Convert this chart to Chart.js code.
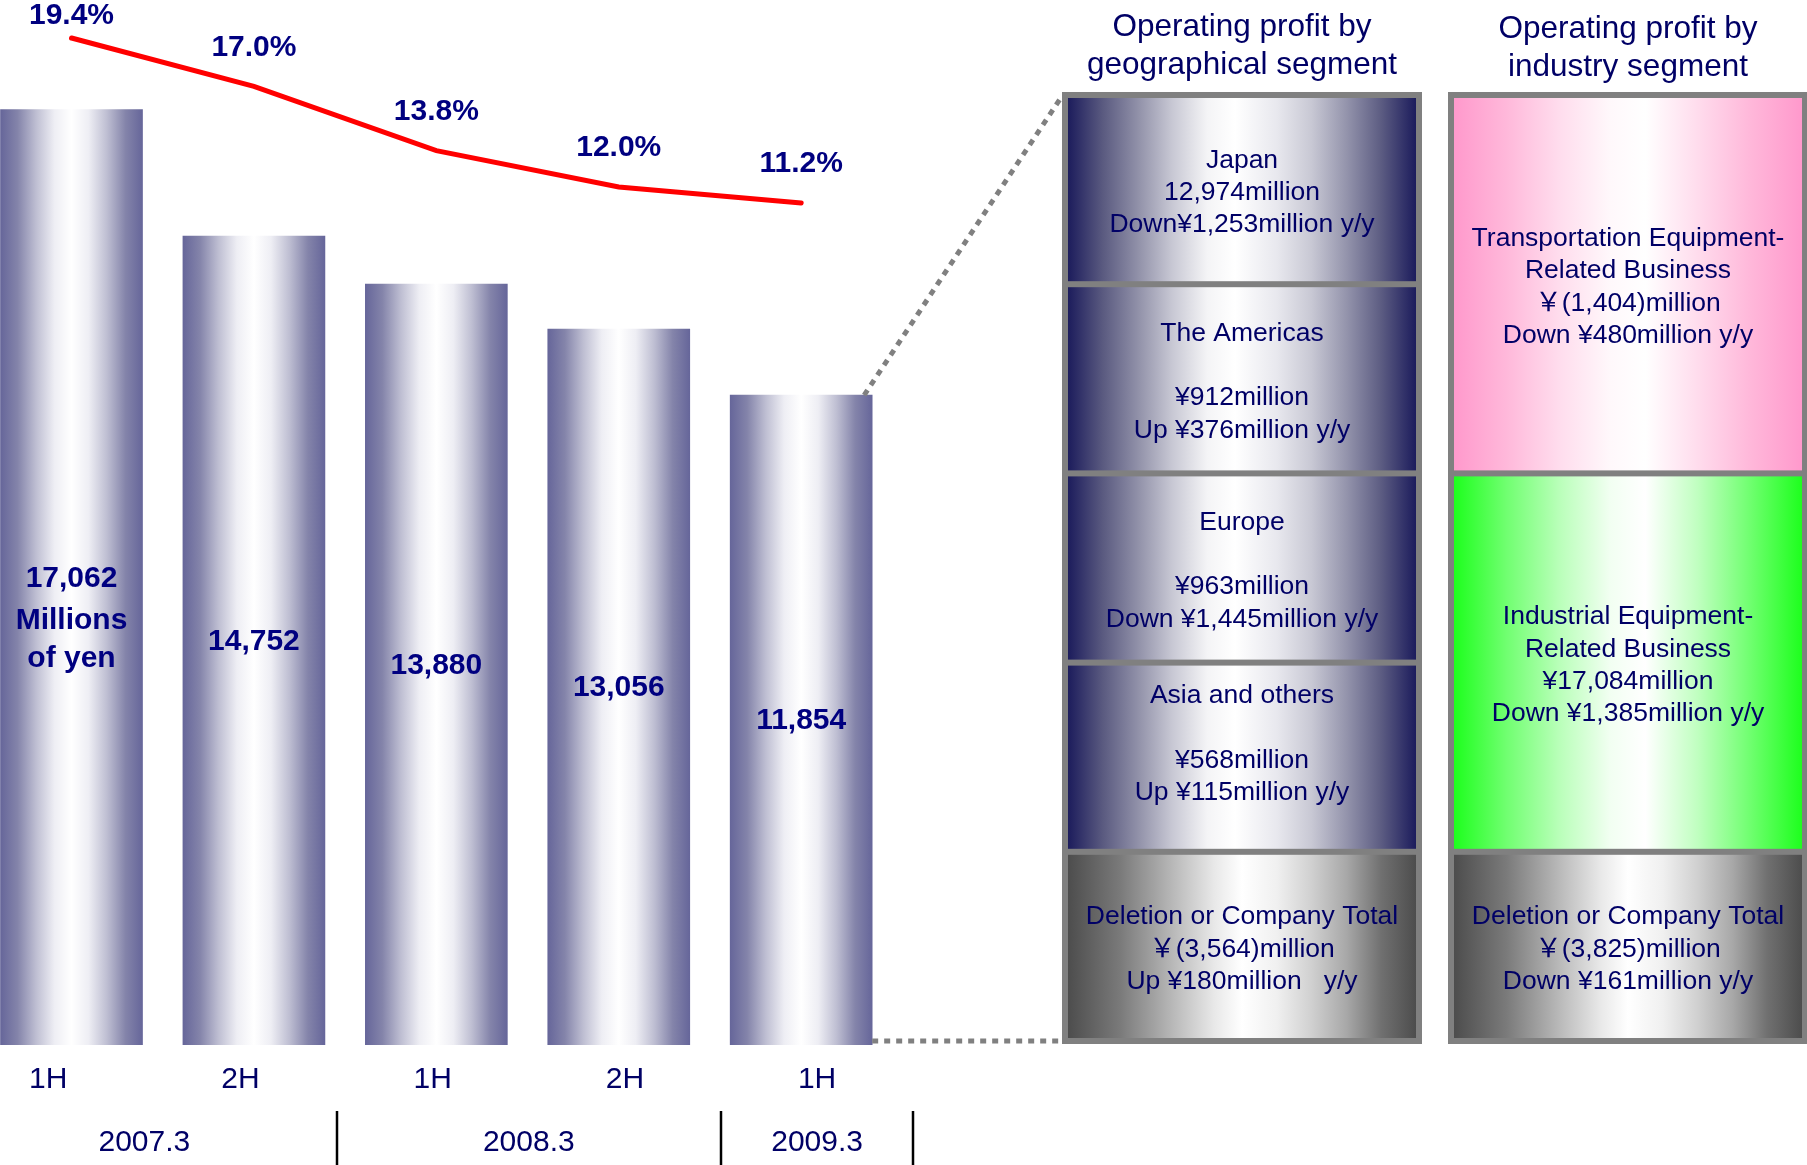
<!DOCTYPE html>
<html lang="en">
<head>
<meta charset="UTF-8">
<title>Operating profit</title>
<script src="https://cdn.jsdelivr.net/npm/chart.js"></script>
<style>
  html, body { margin: 0; padding: 0; background: #ffffff; }
  #myCanvas { display: block; }
</style>
</head>
<body>
<canvas id="myCanvas" width="1807" height="1165"></canvas>
<script>
  // half-year periods and the fiscal year each one belongs to
  const halves = ["1H", "2H", "1H", "2H", "1H"];
  const fiscalYears = ["2007.3", "2008.3", "2009.3"];
  const yearOfHalf = [0, 0, 1, 1, 2];

  // operating profit (millions of yen) and operating margin (%)
  const profit = [17062, 14752, 13880, 13056, 11854];
  const margin = [19.4, 17.0, 13.8, 12.0, 11.2];
  const unitLines = ["Millions", "of yen"];

  // segment breakdown of the latest half
  const geoTitle = ["Operating profit by", "geographical segment"];
  const geoCells = [
    ["Japan", "12,974million", "Down¥1,253million y/y"],
    ["The Americas", "", "¥912million", "Up ¥376million y/y"],
    ["Europe", "", "¥963million", "Down ¥1,445million y/y"],
    ["Asia and others", "", "¥568million", "Up ¥115million y/y", ""],
    ["Deletion or Company Total", "￥(3,564)million", "Up ¥180million   y/y"]
  ];
  const geoKinds = ["region", "region", "region", "region", "total"];
  const geoSpans = [1, 1, 1, 1, 1];

  const indTitle = ["Operating profit by", "industry segment"];
  const indCells = [
    ["Transportation Equipment-", "Related Business", "￥(1,404)million", "Down ¥480million y/y"],
    ["Industrial Equipment-", "Related Business", "¥17,084million", "Down ¥1,385million y/y"],
    ["Deletion or Company Total", "￥(3,825)million", "Down ¥161million y/y"]
  ];
  const indKinds = ["transport", "industrial", "total"];
  const indSpans = [2, 2, 1];

  const FONT = "'Liberation Sans', Arial, 'Noto Sans CJK JP', sans-serif";
  const NAVY = "#000080";
  const TEXT = "#000066";
  const barWidth = 142;

  // horizontal "cylinder" shading of bars and panel cells
  const stops = {
    bar: [[0, "#66669a"], [0.12, "#8484aa"], [0.25, "#bebed2"], [0.38, "#eeeef4"], [0.5, "#ffffff"],
          [0.62, "#eeeef4"], [0.75, "#bebed2"], [0.88, "#8484aa"], [1, "#66669a"]],
    region: [[0, "#1c1c5c"], [0.1, "#5a5a80"], [0.2, "#9090a8"], [0.3, "#c8c8d4"], [0.4, "#f4f4f6"],
             [0.48, "#ffffff"], [0.6, "#e8e8ee"], [0.7, "#c8c8d4"], [0.8, "#9494ac"], [0.9, "#5c5c82"], [1, "#1c1c5c"]],
    total: [[0, "#4d4d4d"], [0.15, "#7a7a7a"], [0.3, "#b8b8b8"], [0.42, "#e8e8e8"], [0.5, "#ffffff"],
            [0.6, "#f0f0f0"], [0.7, "#d0d0d0"], [0.8, "#a8a8a8"], [0.9, "#707070"], [1, "#4d4d4d"]],
    transport: [[0, "#ff99cc"], [0.15, "#ffb8da"], [0.3, "#ffdced"], [0.45, "#fff8fb"], [0.55, "#ffffff"],
                [0.7, "#ffdced"], [0.85, "#ffb8da"], [1, "#ff99cc"]],
    industrial: [[0, "#1eff1e"], [0.15, "#70ff70"], [0.3, "#b8ffb8"], [0.45, "#f2fff2"], [0.55, "#ffffff"],
                 [0.7, "#c0ffc0"], [0.85, "#70ff70"], [1, "#1eff1e"]]
  };

  function hGradient(ctx, kind, x0, x1) {
    const g = ctx.createLinearGradient(x0, 0, x1, 0);
    stops[kind].forEach(s => g.addColorStop(s[0], s[1]));
    return g;
  }

  function barFill(context) {
    const chart = context.chart;
    const xs = chart.scales.x;
    if (!chart.chartArea || !xs || context.type !== "data") return "#66669a";
    const cx = xs.getPixelForValue(context.dataIndex);
    return hGradient(chart.ctx, "bar", cx - barWidth / 2, cx + barWidth / 2);
  }

  function drawLines(ctx, lines, cx, cy, step) {
    const top = cy - (lines.length - 1) * step / 2;
    lines.forEach((t, i) => ctx.fillText(t, cx, top + i * step));
  }

  function drawPanel(ctx, left, width, top, bottom, cells, kinds, spans, title, titleY) {
    const b = 6, slots = 5;
    ctx.fillStyle = "#808080";
    ctx.fillRect(left, top, width, bottom - top);
    const slotH = (bottom - top - b * (slots + 1)) / slots;
    let slot = 0;
    ctx.font = "26.5px " + FONT;
    cells.forEach((lines, i) => {
      const y0 = top + b + slot * (slotH + b);
      const h = spans[i] * slotH + (spans[i] - 1) * b;
      ctx.fillStyle = hGradient(ctx, kinds[i], left + b, left + width - b);
      ctx.fillRect(left + b, y0, width - 2 * b, h);
      ctx.fillStyle = TEXT;
      drawLines(ctx, lines, left + width / 2, y0 + h / 2 + 3, 32.3);
      slot += spans[i];
    });
    ctx.font = "31.5px " + FONT;
    ctx.fillStyle = TEXT;
    title.forEach((t, i) => ctx.fillText(t, left + width / 2, titleY + i * 38));
  }

  const annotate = {
    id: "annotate",
    afterDatasetsDraw(chart) {
      const ctx = chart.ctx;
      const area = chart.chartArea;
      const xl = chart.scales.xl;
      const bars = chart.getDatasetMeta(1).data;
      const pts = chart.getDatasetMeta(0).data;
      ctx.save();
      ctx.textAlign = "center";
      ctx.textBaseline = "middle";

      // values inside the bars
      ctx.font = "bold 30px " + FONT;
      ctx.fillStyle = NAVY;
      bars.forEach((el, i) => {
        const cy = (el.y + el.base) / 2 + 1;
        ctx.fillText(profit[i].toLocaleString("en-US"), el.x, cy);
        if (i === 0) {
          unitLines.forEach((t, k) => ctx.fillText(t, el.x, cy + 42 + k * 38));
        }
      });

      // margin labels above the line
      pts.forEach((p, i) => {
        ctx.fillText(margin[i].toFixed(1) + "%", p.x, Math.max(16, p.y - 39));
      });

      // half-year labels
      ctx.font = "30px " + FONT;
      ctx.fillStyle = TEXT;
      halves.forEach((h, i) => ctx.fillText(h, xl.getPixelForValue(i), area.bottom + 35));

      // fiscal years and separators under the half labels
      fiscalYears.forEach((fy, k) => {
        const idx = yearOfHalf.map((v, i) => v === k ? i : -1).filter(i => i >= 0);
        const mid = (idx[0] + idx[idx.length - 1]) / 2;
        ctx.fillText(fy, xl.getPixelForValue(mid), area.bottom + 98);
        const sx = Math.round(xl.getPixelForValue(idx[idx.length - 1] + 0.5));
        ctx.strokeStyle = "#000000";
        ctx.lineWidth = 2.5;
        ctx.beginPath();
        ctx.moveTo(sx, area.bottom + 66);
        ctx.lineTo(sx, area.bottom + 120);
        ctx.stroke();
      });

      // segment panels
      const geoLeft = 1062, indLeft = 1448, panelTop = 92, panelBottom = area.bottom - 1;
      drawPanel(ctx, geoLeft, 360, panelTop, panelBottom, geoCells, geoKinds, geoSpans, geoTitle, 27.5);
      drawPanel(ctx, indLeft, 360, panelTop, panelBottom, indCells, indKinds, indSpans, indTitle, 29.5);

      // dotted connectors from the latest bar to the geographical panel
      const last = bars[bars.length - 1];
      const right = last.x + last.width / 2;
      ctx.strokeStyle = "#808080";
      ctx.lineWidth = 5;
      ctx.setLineDash([6, 6]);
      ctx.beginPath();
      ctx.moveTo(right - 8, last.y);
      ctx.lineTo(geoLeft, panelTop + 4);
      ctx.moveTo(right, last.base - 4);
      ctx.lineTo(geoLeft, last.base - 4);
      ctx.stroke();
      ctx.restore();
    }
  };

  const myChart = new Chart(document.getElementById("myCanvas"), {
    type: "bar",
    data: {
      datasets: [
        {
          type: "line",
          label: "Operating margin",
          data: margin.map((v, i) => ({ x: i, y: v })),
          xAxisID: "x",
          yAxisID: "y2",
          borderColor: "#ff0000",
          borderWidth: 5,
          borderCapStyle: "round",
          pointRadius: 0,
          tension: 0
        },
        {
          type: "bar",
          label: "Operating profit",
          data: profit.map((v, i) => ({ x: i, y: v })),
          xAxisID: "x",
          yAxisID: "y",
          backgroundColor: barFill,
          borderWidth: 0,
          barThickness: barWidth
        }
      ]
    },
    options: {
      responsive: false,
      animation: false,
      layout: { padding: { left: 0, right: 894, top: 0, bottom: 120 } },
      plugins: { legend: { display: false }, tooltip: { enabled: false } },
      scales: {
        x: { type: "linear", display: false, offset: false, min: -0.392, max: 4.613 },
        xl: { type: "linear", display: false, offset: false, position: "bottom", min: -0.251, max: 4.499 },
        y: { display: false, min: 0, max: 19060 },
        y2: { display: false, min: -30.65, max: 21.29 }
      }
    },
    plugins: [annotate]
  });
</script>
</body>
</html>
